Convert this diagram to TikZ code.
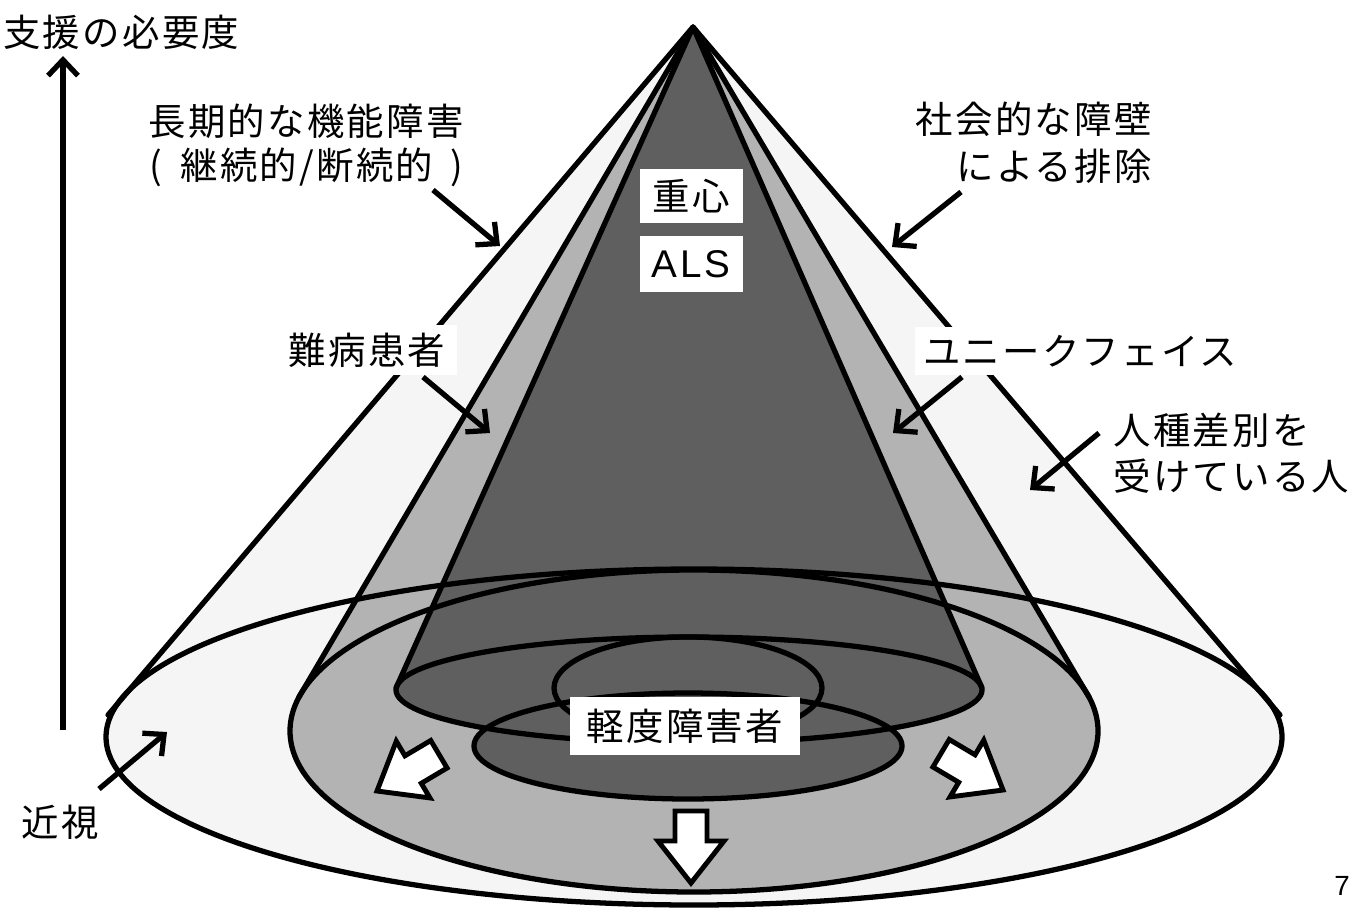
\documentclass[tikz,border=0pt]{standalone}
\usepackage{fontspec}
\setmainfont{Liberation Sans}
\newfontfamily\jp[LetterSpace=6]{Noto Sans CJK JP}
\newfontfamily\lat[LetterSpace=8]{Liberation Sans}
\usetikzlibrary{arrows.meta}
\definecolor{conelight}{HTML}{F5F5F5}
\definecolor{conemid}{HTML}{B3B3B3}
\definecolor{conedark}{HTML}{5F5F5F}
\tikzset{
  conline/.style={line width=3pt, line join=round, line cap=round},
  lbl/.style={inner sep=0pt, font=\jp\fontsize{21.3}{25}\selectfont, align=center},
  wbox/.style={fill=white, inner sep=0pt, font=\jp\fontsize{21.3}{25}\selectfont},
  callout/.style={line width=3pt, -{Straight Barb[length=9pt,width=17pt]}},
  blockarr/.pic={\draw[line width=2.8pt, fill=white, line join=miter]
     (0,0) -- (-42,33) -- (-42,16) -- (-72,16) -- (-72,-16) -- (-42,-16) -- (-42,-33) -- cycle;}
}
\begin{document}
\begin{tikzpicture}[x=0.02cm,y=-0.02cm]
\useasboundingbox (0,0) rectangle (1368,912);
% key points
\coordinate (apex) at (693,27);
\coordinate (oL) at (108,715);
\coordinate (oR) at (1280,715);
\coordinate (mL) at (299,697);
\coordinate (mR) at (1089,697);
\coordinate (iL) at (396,688);
\coordinate (iR) at (982,688);
% fills
\fill[conelight] (apex) -- (oL) -- (oR) -- cycle;
\fill[conelight] (694,737) ellipse [x radius=588, y radius=168];
\fill[conemid] (apex) -- (mL) -- (mR) -- cycle;
\fill[conemid] (694,731) ellipse [x radius=404, y radius=161];
\fill[conedark] (apex) -- (iL) -- (iR) -- cycle;
\fill[conedark] (689,690) ellipse [x radius=293, y radius=53];
\fill[conedark] (688,746) ellipse [x radius=214, y radius=53];
% outlines
\draw[conline] (oL) -- (apex) -- (oR);
\draw[conline] (mL) -- (apex) -- (mR);
\draw[conline] (iL) -- (apex) -- (iR);
\draw[conline] (694,737) ellipse [x radius=588, y radius=168];
\draw[conline] (694,731) ellipse [x radius=404, y radius=161];
\draw[conline] (689,690) ellipse [x radius=293, y radius=53];
\draw[conline] (688,688) ellipse [x radius=134, y radius=51];
\draw[conline] (688,746) ellipse [x radius=214, y radius=53];
% block arrows
\pic[rotate=-90] at (691,883) {blockarr};
\pic[rotate=210.7] at (377,791) {blockarr};
\pic[rotate=-30.7] at (1003,790) {blockarr};
% labels
\node[lbl, anchor=west] (need) at (3,32) {支援の必要度};
\node[lbl] (chronic) at (306,145) {長期的な機能障害\\(\hspace{0.5em}継続的/断続的\hspace{0.45em})};
\node[lbl, align=right, anchor=east, font=\jp\fontsize{21.3}{27}\selectfont] (social) at (1152,143) {社会的な障壁\\による排除};
\node[wbox, minimum width=2.06cm, minimum height=1.1cm] (jushin) at (691,196) {重心};
\node[wbox, minimum width=2.06cm, minimum height=1.14cm, font=\lat\fontsize{22}{26}\selectfont] (als) at (691,264) {ALS};
\node[wbox, minimum width=3.6cm, minimum height=1.0cm] (nanbyo) at (367,350) {難病患者};
\node[wbox, minimum width=6.6cm, minimum height=0.96cm] (unique) at (1080,351) {ユニークフェイス};
\node[lbl, align=left, anchor=west, font=\jp\fontsize{21.3}{26.5}\selectfont] (race) at (1113,453) {人種差別を\\受けている人};
\node[lbl] (kinshi) at (60,822) {近視};
\node[wbox, minimum width=4.6cm, minimum height=1.16cm] (keido) at (685,726) {軽度障害者};
\node[inner sep=0pt, font=\fontsize{15.8}{18}\selectfont] (pageno) at (1342,886) {7};
% callout arrows
\coordinate (axb) at (63,730);
\coordinate (axt) at (63,56);
\draw[callout] (axb) -- (axt);
\coordinate (c1s) at (433,190); \coordinate (c1e) at (500,246);
\draw[callout] (c1s) -- (c1e);
\coordinate (c2s) at (961,192); \coordinate (c2e) at (892,247);
\draw[callout] (c2s) -- (c2e);
\coordinate (c3s) at (423,377); \coordinate (c3e) at (490,433);
\draw[callout] (c3s) -- (c3e);
\coordinate (c4s) at (962,377); \coordinate (c4e) at (893,433);
\draw[callout] (c4s) -- (c4e);
\coordinate (c5s) at (1099,433); \coordinate (c5e) at (1030,490);
\draw[callout] (c5s) -- (c5e);
\coordinate (c6s) at (99,789); \coordinate (c6e) at (167,732);
\draw[callout] (c6s) -- (c6e);
\end{tikzpicture}
\end{document}
